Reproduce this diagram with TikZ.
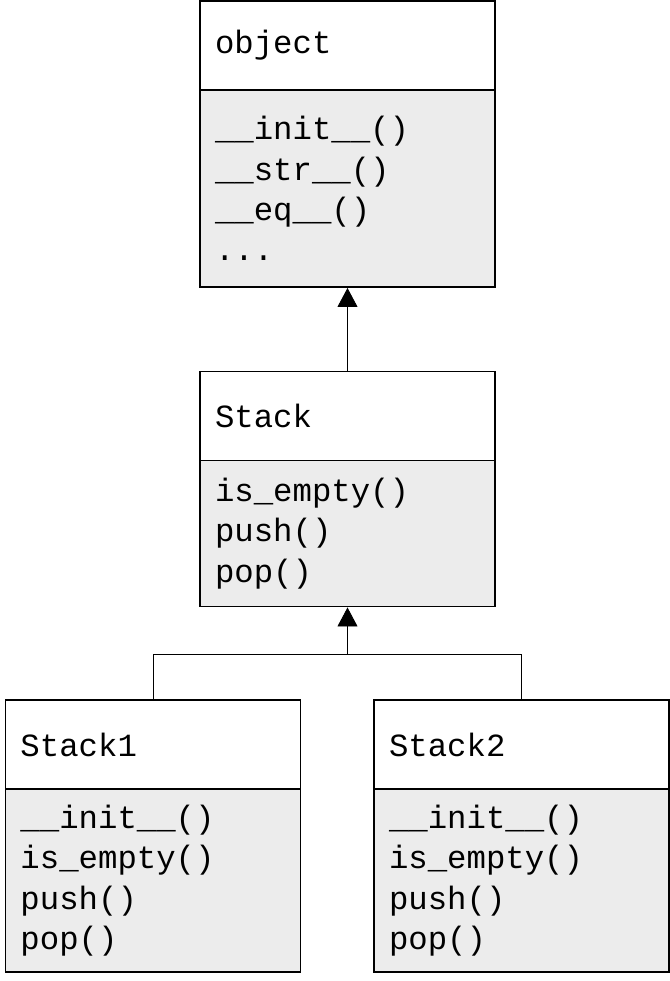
\documentclass[tikz,border=0pt]{standalone}
\usepackage{fontspec}
\setmonofont{Liberation Mono}
\usepackage{tikz}
\usetikzlibrary{arrows.meta, positioning}

\definecolor{bodygray}{HTML}{ECECEC}
\tikzset{
	classhead/.style = {draw, line width=1.1pt, minimum width=5.9cm, minimum height=1.78cm,
		text width=5.3cm, inner xsep=0.3cm, align=left, fill=white,
		font=\ttfamily\fontsize{18.4}{23}\selectfont},
	classbody/.style = {classhead, fill=bodygray},
	inherit/.style = {line width=0.5pt, -{Triangle[width=0.4cm, length=0.38cm]}}
}

\begin{document}
\begin{tikzpicture}
	\useasboundingbox (0,0) rectangle (13.4,-19.62);
	% classes
	\node [classhead] (objH) at (6.95,-0.91) {object};
	\node [classbody, minimum height=3.94cm, below=-1.1pt of objH] (objB) {\_\_init\_\_()\\\_\_str\_\_()\\\_\_eq\_\_()\\...};
	\node [classhead] (stackH) at (6.95,-8.32) {Stack};
	\node [classbody, minimum height=2.92cm, below=-1.1pt of stackH] (stackB) {is\_empty()\\push()\\pop()};
	\node [classhead] (stackAH) at (3.06,-14.89) {Stack1};
	\node [classbody, minimum height=3.66cm, below=-1.1pt of stackAH] (stackAB) {\_\_init\_\_()\\is\_empty()\\push()\\pop()};
	\node [classhead] (stackBH) at (10.43,-14.89) {Stack2};
	\node [classbody, minimum height=3.66cm, below=-1.1pt of stackBH] (stackBB) {\_\_init\_\_()\\is\_empty()\\push()\\pop()};
	% inheritance
	\coordinate (join) at ([yshift=-0.94cm]stackB.south);
	\draw [inherit] (stackH) -- (objB);
	\draw [line width=0.5pt] (stackAH.north) |- (join) -| (stackBH.north);
	\draw [inherit] (join) -- (stackB);
\end{tikzpicture}
\end{document}
